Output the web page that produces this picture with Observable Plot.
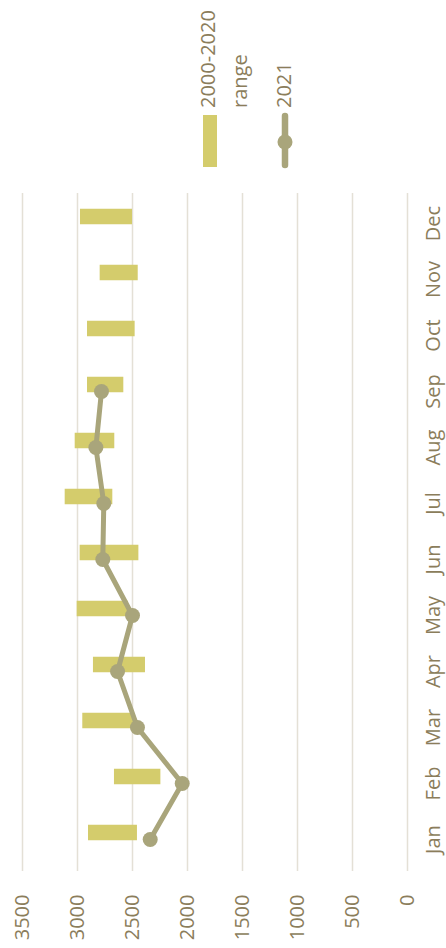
<!DOCTYPE html>
<html>
<head>
<meta charset="utf-8">
<script src="https://cdn.jsdelivr.net/npm/d3@7"></script>
<script src="https://cdn.jsdelivr.net/npm/@observablehq/plot@0.6"></script>
<style>
  html, body { margin: 0; padding: 0; background: #fff; overflow: hidden; }
  #wrap { position: absolute; left: 0; top: 948px; width: 948px; height: 446px;
          transform-origin: 0 0; transform: rotate(-90deg); background: #fff; }
  #legend { position: absolute; left: 0; top: 0; }
</style>
</head>
<body>
<div id="wrap"></div>
<script>
const months = ["Jan","Feb","Mar","Apr","May","Jun","Jul","Aug","Sep","Oct","Nov","Dec"];
const rangeLow  = [2455, 2242, 2490, 2382, 2536, 2442, 2679, 2661, 2579, 2476, 2448, 2500];
const rangeHigh = [2900, 2664, 2952, 2855, 3003, 2976, 3112, 3021, 2909, 2909, 2794, 2973];
const months2021 = ["Jan","Feb","Mar","Apr","May","Jun","Jul","Aug","Sep"];
const values2021 = [2339, 2048, 2455, 2636, 2500, 2770, 2761, 2833, 2782];
const yTicks = [0, 500, 1000, 1500, 2000, 2500, 3000, 3500];
const legendLabels = ["2000-2020", "range", "2021"];

const barColor = "#D4CC6C";
const lineColor = "#A9A57B";
const textColor = "#8B7D5B";
const gridColor = "#E4E0D6";

const rangeData = months.map((m, i) => ({month: m, low: rangeLow[i], high: rangeHigh[i]}));
const data2021 = months2021.map((m, i) => ({month: m, value: values2021[i]}));

const chart = Plot.plot({
  width: 948,
  height: 446,
  marginTop: 22,
  marginBottom: 39,
  marginLeft: 77,
  marginRight: 193,
  style: {fontFamily: "'Open Sans', sans-serif", fontSize: "20px", color: textColor, background: "white", overflow: "visible"},
  x: {type: "band", domain: months, padding: 0, label: null, tickSize: 0, tickPadding: 18},
  y: {domain: [0, 3500], ticks: yTicks, tickSize: 0, tickPadding: 24, label: null, tickFormat: d => String(d)},
  marks: [
    Plot.ruleY(yTicks, {stroke: gridColor, strokeWidth: 1.5}),
    Plot.barY(rangeData, {x: "month", y1: "low", y2: "high", fill: barColor, insetLeft: 27.75, insetRight: 12.75}),
    Plot.line(data2021, {x: "month", y: "value", stroke: lineColor, strokeWidth: 5}),
    Plot.dot(data2021, {x: "month", y: "value", r: 7.5, fill: lineColor})
  ]
});

const wrap = document.getElementById("wrap");
wrap.appendChild(chart);

// legend
const svg = d3.select(wrap).append("svg")
  .attr("id", "legend")
  .attr("width", 948).attr("height", 446)
  .style("font-family", "'Open Sans', sans-serif")
  .style("font-size", "20px");
svg.append("rect").attr("x", 781).attr("y", 203).attr("width", 52).attr("height", 14).attr("fill", barColor);
svg.append("text").attr("x", 840).attr("y", 215).attr("fill", textColor).text(legendLabels[0]);
svg.append("text").attr("x", 840).attr("y", 247).attr("fill", textColor).text(legendLabels[1]);
svg.append("line").attr("x1", 783).attr("x2", 832).attr("y1", 285).attr("y2", 285)
  .attr("stroke", lineColor).attr("stroke-width", 6.5).attr("stroke-linecap", "round");
svg.append("circle").attr("cx", 806).attr("cy", 285).attr("r", 7.5).attr("fill", lineColor);
svg.append("text").attr("x", 840).attr("y", 291).attr("fill", textColor).text(legendLabels[2]);
</script>
</body>
</html>
